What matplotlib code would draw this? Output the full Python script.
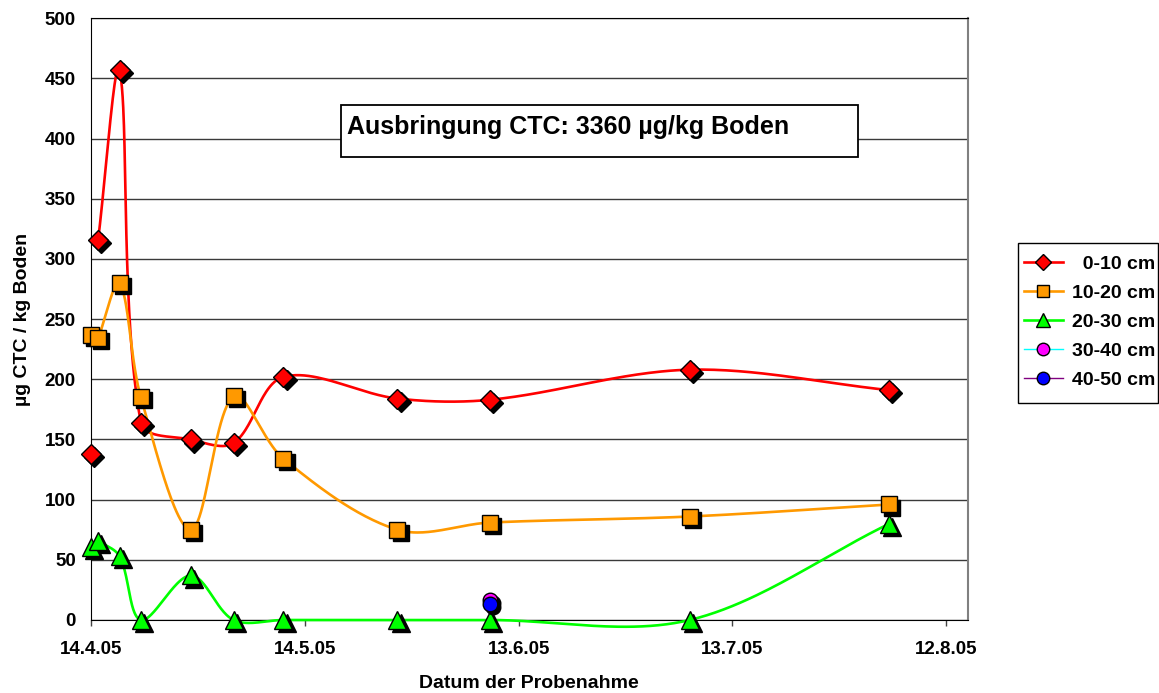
import numpy as np
import matplotlib
matplotlib.use("Agg")
import matplotlib.pyplot as plt
import matplotlib.dates as mdates
from matplotlib.transforms import ScaledTranslation
from matplotlib.lines import Line2D
import pandas as pd

plt.rcParams['font.family'] = ['Liberation Sans', 'DejaVu Sans']
plt.rcParams['font.weight'] = 'bold'

# ---- data ----
dates = ["2005-04-14", "2005-04-15", "2005-04-18", "2005-04-21", "2005-04-28",
         "2005-05-04", "2005-05-11", "2005-05-27", "2005-06-09", "2005-07-07",
         "2005-08-04"]
depth_0_10 = [138, 316, 457, 164, 150, 147, 202, 184, 183, 208, 191]
depth_10_20 = [237, 234, 280, 185, 75, 186, 134, 75, 81, 86, 96]
depth_20_30 = [61, 66, 53, 0, 37, 0, 0, 0, 0, 0, 80]
date_30_40 = ["2005-06-09"]
depth_30_40 = [16.5]
date_40_50 = ["2005-06-09"]
depth_40_50 = [13.5]
tick_dates = ["2005-04-14", "2005-05-14", "2005-06-13", "2005-07-13", "2005-08-12"]
tick_labels = ["14.4.05", "14.5.05", "13.6.05", "13.7.05", "12.8.05"]
x_range = ["2005-04-14", "2005-08-15"]
annotation = "Ausbringung CTC: 3360 µg/kg Boden"
legend_labels = ["  0-10 cm", "10-20 cm", "20-30 cm", "30-40 cm", "40-50 cm"]

x = mdates.date2num(pd.to_datetime(dates))
x3 = mdates.date2num(pd.to_datetime(date_30_40))
x4 = mdates.date2num(pd.to_datetime(date_40_50))

W, H = 1159, 693
fig = plt.figure(figsize=(W / 100, H / 100), dpi=100)
ax = fig.add_axes([91 / W, 1 - 620 / H, (967.7 - 91) / W, (620 - 18.3) / H])
xr = mdates.date2num(pd.to_datetime(x_range))
ax.set_xlim(xr[0], xr[1])
ax.set_ylim(0, 500)

def smooth(xs, ys, n=50):
    pts = ax.transData.transform(np.column_stack([xs, ys]))
    m = len(pts)
    fwd = np.zeros_like(pts)
    bwd = np.zeros_like(pts)
    for i in range(m):
        pp = pts[i - 1] if i > 0 else pts[i]
        pn = pts[i + 1] if i < m - 1 else pts[i]
        d1 = np.hypot(*(pts[i] - pp))
        d2 = np.hypot(*(pn - pts[i]))
        tot = d1 + d2 if d1 + d2 > 0 else 1.0
        tan = pn - pp
        fwd[i] = pts[i] + tan * (d2 / tot) / 3.0
        bwd[i] = pts[i] - tan * (d1 / tot) / 3.0
    out = []
    for i in range(m - 1):
        p1, c1, c2, p2 = pts[i], fwd[i], bwd[i + 1], pts[i + 1]
        t = np.linspace(0, 1, n)[:, None]
        seg = ((1 - t) ** 3) * p1 + 3 * ((1 - t) ** 2) * t * c1 + 3 * (1 - t) * t ** 2 * c2 + t ** 3 * p2
        out.append(seg if i == 0 else seg[1:])
    arr = np.vstack(out)
    d = ax.transData.inverted().transform(arr)
    return d[:, 0], d[:, 1]

shadow = ax.transData + ScaledTranslation(2.2 / 72, -2.2 / 72, fig.dpi_scale_trans)

series = [
    (depth_0_10, 'red', 'D', 'red', 10),
    (depth_10_20, '#FF9900', 's', '#FF9900', 11),
    (depth_20_30, '#00FF00', '^', '#00FF00', 12.5),
]
for ys, lc, mk, fc, ms in series:
    sx, sy = smooth(x[1:], np.array(ys[1:], dtype=float))
    ax.plot(sx, sy, color=lc, lw=1.9, zorder=3, clip_on=False)
for ys, lc, mk, fc, ms in series:
    ax.plot(x, ys, linestyle='none', marker=mk, ms=ms, mfc='black', mec='black',
            transform=shadow, zorder=4, clip_on=False)
    ax.plot(x, ys, linestyle='none', marker=mk, ms=ms, mfc=fc, mec='black', mew=1.0,
            zorder=5, clip_on=False)

for xs, ys, fc in [(x3, depth_30_40, '#FF00FF'), (x4, depth_40_50, '#0000FF')]:
    ax.plot(xs, ys, linestyle='none', marker='o', ms=10.5, mfc='black', mec='black',
            transform=shadow, zorder=6, clip_on=False)
    ax.plot(xs, ys, linestyle='none', marker='o', ms=10.5, mfc=fc, mec='black', mew=1.0,
            zorder=7, clip_on=False)

# grid
ax.set_yticks(np.arange(0, 501, 50))
ax.yaxis.grid(True, color='#3a3a3a', lw=1.0)
ax.set_axisbelow(True)
ax.tick_params(axis='y', length=0, labelsize=13.5, pad=11)
xt = mdates.date2num(pd.to_datetime(tick_dates))
ax.set_xticks(xt)
ax.set_xticklabels(tick_labels)
ax.tick_params(axis='x', direction='out', length=4, width=1, labelsize=13.5, pad=11, color='#444444')
for lab in ax.get_xticklabels() + ax.get_yticklabels():
    lab.set_fontweight('bold')
ax.spines['left'].set_color('black')
ax.spines['bottom'].set_color('black')
ax.spines['top'].set_color('black')
ax.spines['right'].set_color('#808080')
ax.spines['right'].set_linewidth(1.5)

ax.set_xlabel("Datum der Probenahme", fontsize=14, fontweight='bold', labelpad=12)
ax.set_ylabel("µg CTC / kg Boden", fontsize=14, fontweight='bold', labelpad=10)

# annotation box
fig.patches.append(plt.Rectangle((341 / W, 1 - 157 / H), (858 - 341) / W, 52 / H,
                                 transform=fig.transFigure, facecolor='white',
                                 edgecolor='black', lw=1.3, zorder=10))
fig.text(347 / W, 1 - 127 / H, annotation, fontsize=18, fontweight='bold',
         va='center', ha='left', zorder=11)

# legend
fig.patches.append(plt.Rectangle((1018 / W, 1 - 403 / H), (1157.5 - 1018) / W, 160 / H,
                                 transform=fig.transFigure, facecolor='white',
                                 edgecolor='black', lw=1.0, zorder=1))
handles = [
    Line2D([], [], color='red', lw=1.9, marker='D', ms=8.5, mfc='red', mec='black'),
    Line2D([], [], color='#FF9900', lw=1.9, marker='s', ms=9, mfc='#FF9900', mec='black'),
    Line2D([], [], color='#00FF00', lw=1.9, marker='^', ms=10.5, mfc='#00FF00', mec='black'),
    Line2D([], [], color='cyan', lw=1.0, marker='o', ms=9, mfc='#FF00FF', mec='black'),
    Line2D([], [], color='purple', lw=1.0, marker='o', ms=9, mfc='#0000FF', mec='black'),
]
leg = fig.legend(handles, legend_labels, loc='center',
                 bbox_to_anchor=(1089.5 / W, 1 - 322 / H), frameon=False,
                 prop={'weight': 'bold', 'size': 14},
                 handlelength=2.0, handletextpad=0.45, labelspacing=0.59,
                 borderpad=0.0, borderaxespad=0)
leg.set_zorder(2)

fig.savefig("out.png", dpi=100)
